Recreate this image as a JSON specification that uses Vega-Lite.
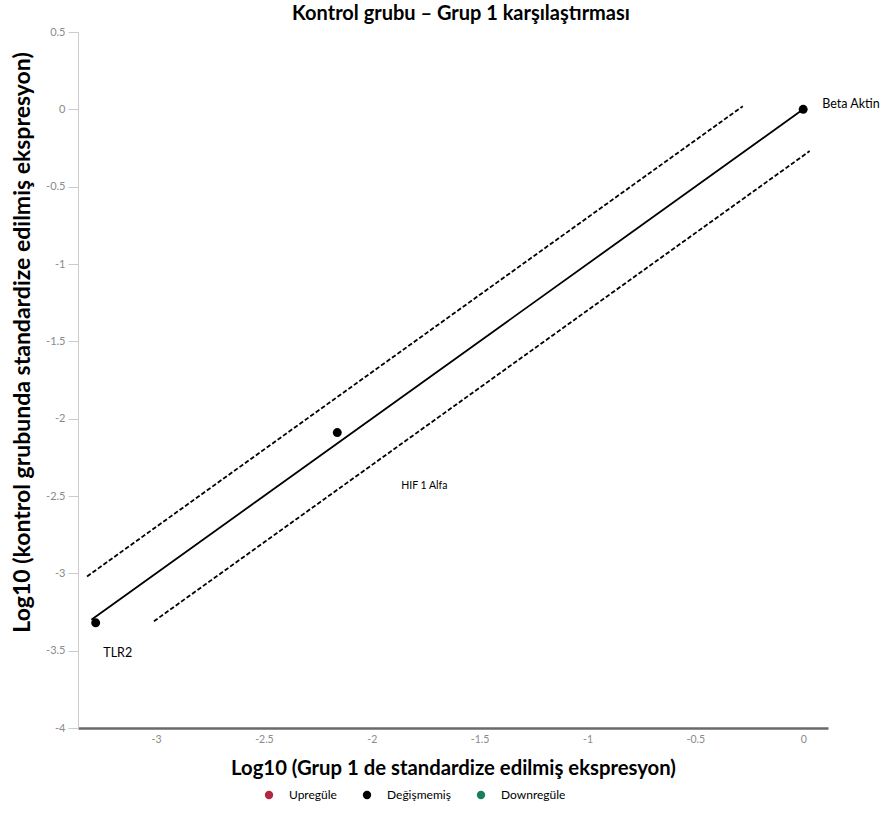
{
  "$schema": "https://vega.github.io/schema/vega-lite/v6.json",
  "width": 750,
  "height": 696,
  "autosize": {"type": "none"},
  "padding": {"left": 78, "top": 32, "right": 61, "bottom": 88},
  "background": "white",
  "config": {
    "view": {"stroke": null},
    "font": "Lato",
    "axis": {"grid": false, "labelFont": "Lato", "titleFont": "Lato"}
  },
  "title": {
    "text": "Kontrol grubu – Grup 1 karşılaştırması",
    "fontSize": 20,
    "fontWeight": "bold",
    "font": "Lato",
    "color": "#000000",
    "anchor": "middle",
    "offset": 2,
    "dx": 8
  },
  "datasets": {
    "points": [
      {"gene": "Beta Aktin", "x": 0, "y": 0, "status": "Değişmemiş"},
      {"gene": "HIF 1 Alfa", "x": -2.16, "y": -2.09, "status": "Değişmemiş"},
      {"gene": "TLR2", "x": -3.28, "y": -3.32, "status": "Değişmemiş"}
    ],
    "lines": [
      {"line": "center", "x": -3.30, "y": -3.30},
      {"line": "center", "x": 0, "y": 0},
      {"line": "upper", "x": -3.32, "y": -3.02},
      {"line": "upper", "x": -0.28, "y": 0.02},
      {"line": "lower", "x": -3.01, "y": -3.31},
      {"line": "lower", "x": 0.03, "y": -0.27}
    ]
  },
  "layer": [
    {
      "data": {"name": "lines"},
      "transform": [{"filter": "datum.line === 'center'"}],
      "mark": {"type": "line", "color": "#000000", "strokeWidth": 1.8},
      "encoding": {
        "x": {
          "field": "x", "type": "quantitative",
          "scale": {"domain": [-3.362, 0.115], "nice": false, "zero": false},
          "axis": {
            "title": "Log10 (Grup 1 de standardize edilmiş ekspresyon)",
            "titleFontSize": 20.3, "titleFontWeight": "bold", "titleColor": "#000000",
            "titlePadding": 14,
            "values": [-3, -2.5, -2, -1.5, -1, -0.5, 0],
            "labelExpr": "'' + datum.value",
            "labelFontSize": 10.5, "labelColor": "#8a8a8a", "labelPadding": 6,
            "ticks": false,
            "domainColor": "#6a6a6a", "domainWidth": 2.5
          }
        },
        "y": {
          "field": "y", "type": "quantitative",
          "scale": {"domain": [-4, 0.5], "nice": false, "zero": false},
          "axis": {
            "title": "Log10 (kontrol grubunda standardize edilmiş ekspresyon)",
            "titleFontSize": 23, "titleFontWeight": "bold", "titleColor": "#000000",
            "titlePadding": 11,
            "titleY": 310,
            "values": [0.5, 0, -0.5, -1, -1.5, -2, -2.5, -3, -3.5, -4],
            "labelExpr": "'' + datum.value",
            "labelFontSize": 11, "labelColor": "#8a8a8a", "labelPadding": 3,
            "tickColor": "#cccccc", "tickSize": 10,
            "domainColor": "#cccccc", "domainWidth": 1
          }
        }
      }
    },
    {
      "data": {"name": "lines"},
      "transform": [{"filter": "datum.line !== 'center'"}],
      "mark": {"type": "line", "color": "#000000", "strokeWidth": 1.8, "strokeDash": [4.5, 2.2]},
      "encoding": {
        "x": {"field": "x", "type": "quantitative"},
        "y": {"field": "y", "type": "quantitative"},
        "detail": {"field": "line"}
      }
    },
    {
      "data": {"name": "points"},
      "mark": {"type": "circle", "size": 80, "opacity": 1},
      "encoding": {
        "x": {"field": "x", "type": "quantitative"},
        "y": {"field": "y", "type": "quantitative"},
        "color": {
          "field": "status", "type": "nominal",
          "scale": {"domain": ["Upregüle", "Değişmemiş", "Downregüle"], "range": ["#b0283f", "#000000", "#1b7d5f"]},
          "legend": {
            "title": null,
            "orient": "none",
            "direction": "horizontal",
            "legendX": 185,
            "legendY": 757,
            "labelFontSize": 12,
            "labelColor": "#000000",
            "symbolSize": 70,
            "symbolType": "circle",
            "columnPadding": 24,
            "labelOffset": 14
          }
        }
      }
    },
    {
      "data": {"name": "points"},
      "transform": [{"filter": "datum.gene === 'Beta Aktin'"}],
      "mark": {"type": "text", "align": "left", "baseline": "middle", "dx": 19, "dy": -5, "fontSize": 12.5, "color": "#000000"},
      "encoding": {
        "x": {"field": "x", "type": "quantitative"},
        "y": {"field": "y", "type": "quantitative"},
        "text": {"field": "gene"}
      }
    },
    {
      "data": {"name": "points"},
      "transform": [{"filter": "datum.gene === 'HIF 1 Alfa'"}],
      "mark": {"type": "text", "align": "center", "baseline": "middle", "dx": 87, "dy": 53, "fontSize": 10.5, "color": "#000000"},
      "encoding": {
        "x": {"field": "x", "type": "quantitative"},
        "y": {"field": "y", "type": "quantitative"},
        "text": {"field": "gene"}
      }
    },
    {
      "data": {"name": "points"},
      "transform": [{"filter": "datum.gene === 'TLR2'"}],
      "mark": {"type": "text", "align": "center", "baseline": "middle", "dx": 22, "dy": 30, "fontSize": 12.5, "color": "#000000"},
      "encoding": {
        "x": {"field": "x", "type": "quantitative"},
        "y": {"field": "y", "type": "quantitative"},
        "text": {"field": "gene"}
      }
    }
  ]
}
